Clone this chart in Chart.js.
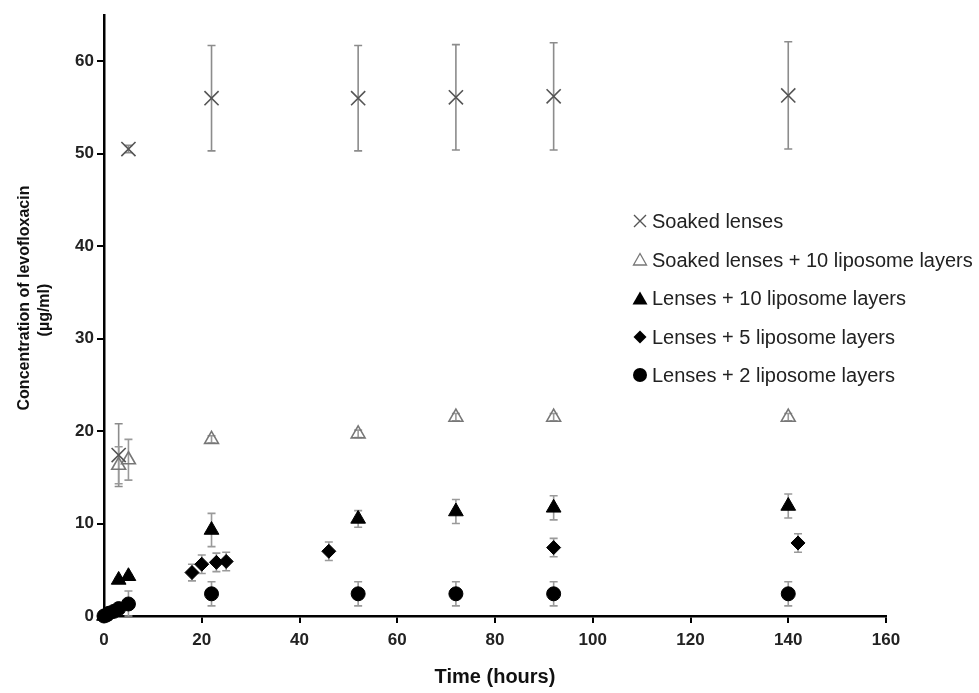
<!DOCTYPE html>
<html lang="en">
<head>
<meta charset="UTF-8">
<title>Levofloxacin release</title>
<script src="https://cdn.jsdelivr.net/npm/chart.js"></script>
<style>
  body { margin: 0; background: #fff; }
  .wrap { position: relative; width: 979px; height: 693px; }
  .legend {
    position: absolute; left: 632px; top: 202px;
    font-family: "Liberation Sans", Arial, sans-serif; font-size: 20px;
    color: #222; white-space: nowrap;
  }
  .legend div { height: 38.6px; line-height: 38.6px; }
  .legend svg { vertical-align: middle; margin-right: 4px; position: relative; top: -2px; }
  .ytitle {
    position: absolute; width: 300px; text-align: center; color: #111;
    font-family: "Liberation Sans", Arial, sans-serif; font-size: 16px; font-weight: bold;
    transform: translate(-50%, -50%) rotate(-90deg); white-space: nowrap;
  }
</style>
</head>
<body>
<div class="wrap">
  <canvas id="grafico" width="979" height="693"></canvas>
  <div class="ytitle" style="left:24px; top:298px">Concentration of levofloxacin</div>
  <div class="ytitle" style="left:44px; top:310px">(&micro;g/ml)</div>
  <div class="legend">
    <div><svg width="16" height="16"><path d="M2 2 L14 14 M14 2 L2 14" stroke="#555" stroke-width="1.4" fill="none"/></svg>Soaked lenses</div>
    <div><svg width="16" height="16"><path d="M8 2.5 L14.5 14 L1.5 14 Z" stroke="#777" stroke-width="1.3" fill="none"/></svg>Soaked lenses + 10 liposome layers</div>
    <div><svg width="16" height="16"><path d="M8 1.5 L15.5 14.5 L0.5 14.5 Z" fill="#000"/></svg>Lenses + 10 liposome layers</div>
    <div><svg width="16" height="16"><path d="M8 1.5 L14.5 8 L8 14.5 L1.5 8 Z" fill="#000"/></svg>Lenses + 5 liposome layers</div>
    <div><svg width="16" height="16"><circle cx="8" cy="8" r="7" fill="#000"/></svg>Lenses + 2 liposome layers</div>
  </div>
</div>
<script>
  // valores (horas, ug/ml, desvio)
  const soakedX = [3, 5, 22, 52, 72, 92, 140];
  const soakedY = [17.4, 50.5, 56.0, 56.0, 56.1, 56.2, 56.3];
  const soakedErr = [3.4, 0.4, 5.7, 5.7, 5.7, 5.8, 5.8];

  const soakedLipX = [3, 5, 22, 52, 72, 92, 140];
  const soakedLipY = [16.3, 16.9, 19.1, 19.7, 21.5, 21.5, 21.5];
  const soakedLipErr = [2.0, 2.2, 0.4, 0.4, 0.4, 0.4, 0.4];

  const lip10X = [0, 3, 5, 22, 52, 72, 92, 140];
  const lip10Y = [0, 3.9, 4.3, 9.3, 10.5, 11.3, 11.7, 11.9];
  const lip10Err = [0, 0.2, 0.2, 1.8, 0.9, 1.3, 1.3, 1.3];

  const lip5X = [0, 1, 2, 18, 20, 23, 25, 46, 92, 142];
  const lip5Y = [0, 0.3, 0.5, 4.7, 5.6, 5.8, 5.9, 7.0, 7.4, 7.9];
  const lip5Err = [0, 0.3, 0.3, 0.9, 1.0, 1.0, 1.0, 1.0, 1.0, 1.0];

  const lip2X = [0, 0.5, 1, 2, 3, 5, 22, 52, 72, 92, 140];
  const lip2Y = [0, 0.1, 0.3, 0.5, 0.8, 1.3, 2.4, 2.4, 2.4, 2.4, 2.4];
  const lip2Err = [0, 0.2, 0.3, 0.3, 0.4, 1.4, 1.3, 1.3, 1.3, 1.3, 1.3];

  const seriesNames = ['Soaked lenses', 'Soaked lenses + 10 liposome layers',
    'Lenses + 10 liposome layers', 'Lenses + 5 liposome layers', 'Lenses + 2 liposome layers'];
  const xTicks = [0, 20, 40, 60, 80, 100, 120, 140, 160];
  const yTicks = [0, 10, 20, 30, 40, 50, 60];

  function pares(xs, ys) {
    return xs.map((x, i) => ({ x: x, y: ys[i] }));
  }

  const erros = [soakedErr, soakedLipErr, lip10Err, lip5Err, lip2Err];

  // barras de erro desenhadas antes dos pontos
  const barrasErro = {
    id: 'barrasErro',
    beforeDatasetsDraw(chart) {
      const ctx = chart.ctx;
      const sy = chart.scales.y;
      chart.data.datasets.forEach((ds, i) => {
        const meta = chart.getDatasetMeta(i);
        ctx.save();
        ctx.strokeStyle = i == 0 ? '#8c8c8c' : '#9a9a9a';
        ctx.lineWidth = 1.6;
        meta.data.forEach((pt, j) => {
          const e = erros[i][j];
          if (!e) return;
          const v = ds.data[j].y;
          const top = sy.getPixelForValue(v + e);
          const bot = sy.getPixelForValue(Math.max(v - e, 0));
          ctx.beginPath();
          ctx.moveTo(pt.x, top); ctx.lineTo(pt.x, bot);
          ctx.moveTo(pt.x - 4, top); ctx.lineTo(pt.x + 4, top);
          ctx.moveTo(pt.x - 4, bot); ctx.lineTo(pt.x + 4, bot);
          ctx.stroke();
        });
        ctx.restore();
      });
    }
  };

  const ctx = document.getElementById('grafico');

  new Chart(ctx, {
    type: 'scatter',
    data: {
      datasets: [
        { label: seriesNames[0], data: pares(soakedX, soakedY), pointStyle: 'crossRot',
          pointRadius: 10, borderColor: '#555', borderWidth: 1.6, backgroundColor: '#555', clip: false },
        { label: seriesNames[1], data: pares(soakedLipX, soakedLipY), pointStyle: 'triangle',
          pointRadius: 8, borderColor: '#777', borderWidth: 1.6, backgroundColor: 'rgba(0,0,0,0)', clip: false },
        { label: seriesNames[2], data: pares(lip10X, lip10Y), pointStyle: 'triangle',
          pointRadius: 8.5, borderColor: '#000', borderWidth: 1, backgroundColor: '#000', clip: false },
        { label: seriesNames[3], data: pares(lip5X, lip5Y), pointStyle: 'rectRot',
          pointRadius: 7, borderColor: '#000', borderWidth: 1, backgroundColor: '#000', clip: false },
        { label: seriesNames[4], data: pares(lip2X, lip2Y), pointStyle: 'circle',
          pointRadius: 7, borderColor: '#000', borderWidth: 1, backgroundColor: '#000', clip: false }
      ]
    },
    options: {
      responsive: false,
      animation: false,
      layout: { padding: { top: 15, right: 93, left: 0, bottom: 0 } },
      plugins: { legend: { display: false }, tooltip: { enabled: false } },
      scales: {
        x: {
          type: 'linear', min: 0, max: 160,
          afterBuildTicks: s => { s.ticks = xTicks.map(v => ({ value: v })); },
          afterFit: s => { s.height = 77; },
          grid: { drawOnChartArea: false, color: '#000', lineWidth: 2, tickLength: 7 },
          border: { color: '#000', width: 2.5 },
          ticks: { color: '#222', padding: 7, font: { family: 'Liberation Sans', size: 17, weight: 'bold' } },
          title: { display: true, text: 'Time (hours)', color: '#111', padding: { top: 0, bottom: 4 },
            font: { family: 'Liberation Sans', size: 20, weight: 'bold' } }
        },
        y: {
          min: 0, max: 65,
          afterBuildTicks: s => { s.ticks = yTicks.map(v => ({ value: v })); },
          afterFit: s => { s.width = 104; },
          grid: { drawOnChartArea: false, color: '#000', lineWidth: 2, tickLength: 7 },
          border: { color: '#000', width: 2.5 },
          ticks: { color: '#222', padding: 3, font: { family: 'Liberation Sans', size: 17, weight: 'bold' } },
          title: { display: false }
        }
      }
    },
    plugins: [barrasErro]
  });
</script>
</body>
</html>
